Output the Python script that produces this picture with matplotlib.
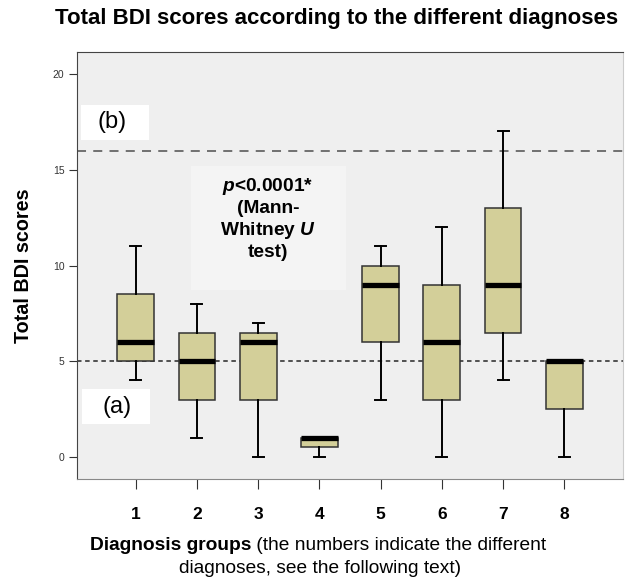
import matplotlib
matplotlib.use("Agg")
import matplotlib.pyplot as plt

plt.rcParams['font.family'] = ['Liberation Sans', 'DejaVu Sans']
plt.rcParams['mathtext.fontset'] = 'custom'
plt.rcParams['mathtext.bfit'] = 'Liberation Sans:italic:bold'
plt.rcParams['mathtext.bf'] = 'Liberation Sans:bold'

# five-number summaries per diagnosis group (BDI totals)
groups = [1, 2, 3, 4, 5, 6, 7, 8]
whisker_low = [4, 1, 0, 0, 3, 0, 4, 0]
q1 = [5, 3, 3, 0.5, 6, 3, 6.5, 2.5]
median = [6, 5, 6, 1, 9, 6, 9, 5]
q3 = [8.5, 6.5, 6.5, 1, 10, 9, 13, 5]
whisker_high = [11, 8, 7, 1, 11, 12, 17, 5]

cutoff_a = 5
cutoff_b = 16
y_ticks = [0, 5, 10, 15, 20]

stats = []
for i in range(len(groups)):
    stats.append(dict(whislo=whisker_low[i], q1=q1[i], med=median[i],
                      q3=q3[i], whishi=whisker_high[i], fliers=[]))

fig = plt.figure(figsize=(6.3, 5.79), dpi=100)
ax = fig.add_axes([0.1222, 0.1727, 0.8667, 0.7375])
ax.set_facecolor('#efefef')

ax.axhline(cutoff_b, color='#666666', lw=1.3, dashes=(5, 4), zorder=1)
ax.axhline(cutoff_a, color='#444444', lw=1.3, dashes=(2.5, 2), zorder=1)

ax.bxp(stats, positions=groups, widths=0.6, patch_artist=True,
       showfliers=False,
       boxprops=dict(facecolor='#d3cf99', edgecolor='#333333', lw=1.1),
       medianprops=dict(color='black', lw=3.8, solid_capstyle='butt'),
       whiskerprops=dict(color='black', lw=1.4),
       capprops=dict(color='black', lw=1.4),
       capwidths=0.18, zorder=3)

# label boxes for the two cut-off lines and the test result
ax.fill_between([0.11, 1.22], 16.56, 18.39, color='white', lw=0, zorder=2)
ax.text(0.62, 17.47, '(b)', ha='center', va='center', fontsize=17, zorder=4)
ax.fill_between([0.13, 1.24], 1.72, 3.55, color='white', lw=0, zorder=2)
ax.text(0.70, 2.63, '(a)', ha='center', va='center', fontsize=17, zorder=4)

ax.fill_between([1.9, 4.43], 8.7, 15.2, color='#f4f4f4', lw=0, zorder=2)
ax.text(3.16, 12.45,
        '$\\boldsymbol{p}$<0.0001*\n(Mann-\nWhitney $\\boldsymbol{U}$\ntest)',
        ha='center', va='center', fontsize=13.8, fontweight='bold',
        linespacing=1.2, zorder=4)

ax.set_xlim(0.04, 8.96)
ax.set_ylim(-1.15, 21.15)
ax.set_yticks(y_ticks)
ax.set_yticklabels([str(t) for t in y_ticks], fontsize=7.5, color='#333333')
ax.set_xticks(groups)
ax.set_xticklabels([str(g) for g in groups], fontsize=12.5, fontweight='bold')
ax.tick_params(axis='x', length=7, pad=13, color='#333333')
ax.tick_params(axis='y', length=6, pad=3, color='#333333')
for side in ['left', 'bottom', 'top', 'right']:
    ax.spines[side].set_color('#444444')
ax.spines['right'].set_color('#cccccc')
ax.spines['bottom'].set_color('#888888')

ax.set_ylabel('Total BDI scores', fontsize=14.2, fontweight='bold', labelpad=14)
fig.text(0.534, 0.968, 'Total BDI scores according to the different diagnoses',
         ha='center', va='center', fontsize=16, fontweight='bold')

t1 = fig.text(0.143, 0.050, 'Diagnosis groups', fontsize=13.8, fontweight='bold',
              va='baseline')
ax.annotate(' (the numbers indicate the different', xy=(1, 0), xycoords=t1,
            fontsize=13.8, va='bottom', ha='left', annotation_clip=False)
fig.text(0.508, 0.011, 'diagnoses, see the following text)', fontsize=13.8,
         ha='center', va='baseline')

fig.savefig('out.png', dpi=100, facecolor='white')
